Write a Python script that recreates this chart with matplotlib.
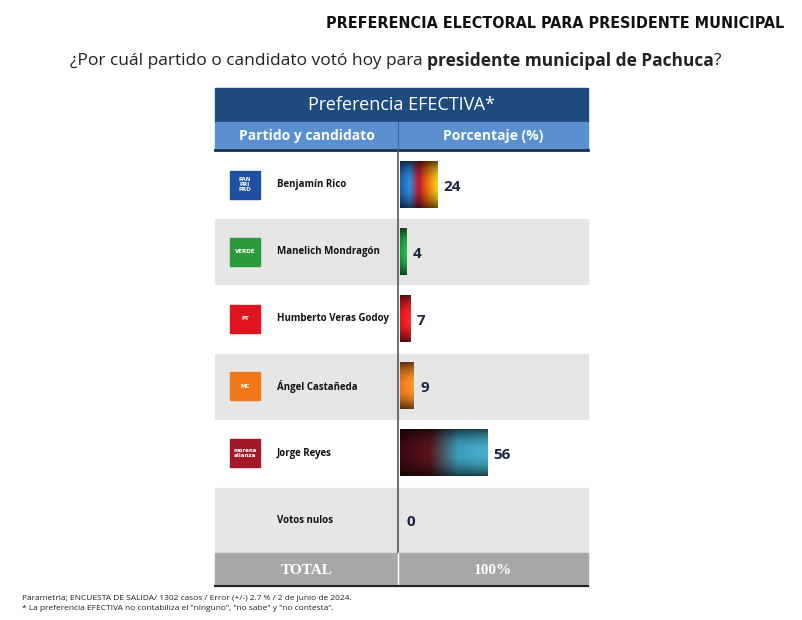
import matplotlib.pyplot as plt
import numpy as np
from matplotlib.patches import Rectangle
from matplotlib.colors import LinearSegmentedColormap

candidates = ["Benjamín Rico", "Manelich Mondragón", "Humberto Veras Godoy",
              "Ángel Castañeda", "Jorge Reyes", "Votos nulos"]
values = [24, 4, 7, 9, 56, 0]
bar_colors = [["#1f5fb0", "#2f8fe0", "#c0182a", "#f07a10", "#ffd21a"],
              ["#1a9a3a", "#2dc050"],
              ["#e0141e", "#ff2b2b"],
              ["#f07818", "#ff9a30"],
              ["#3a0a10", "#5a1418", "#3aa0c0", "#4ab0cc"],
              ["#ffffff", "#ffffff"]]
logos = [("PAN PRI PRD", "#1f4fa0"), ("VERDE", "#2a9a3a"), ("PT", "#e0141e"),
         ("MC", "#f07818"), ("morena alianza", "#a01828"), (None, None)]

W, H = 802, 620
fig = plt.figure(figsize=(W / 100, H / 100), dpi=100)
ax = fig.add_axes([0, 0, 1, 1])
ax.set_xlim(0, W)
ax.set_ylim(H, 0)
ax.axis("off")

font = "Open Sans"
ax.text(784, 24, "PREFERENCIA ELECTORAL PARA PRESIDENTE MUNICIPAL", ha="right",
        va="center", fontsize=11.5, fontweight="bold", family="DejaVu Sans",
        fontstretch="condensed", color="#111111")

# subtitle in three pieces, placed one after another
renderer = fig.canvas.get_renderer()
x = 70
for txt, wt in [("¿Por cuál partido o candidato votó hoy para ", "normal"),
                ("presidente municipal de Pachuca", "bold"), ("?", "normal")]:
    t = ax.text(x, 61, txt, ha="left", va="center", fontsize=12.5, family=font,
                fontweight=wt, color="#222222")
    bb = t.get_window_extent(renderer)
    x += bb.width

L, R, MID = 215, 588, 398
ax.add_patch(Rectangle((L, 88), R - L, 34, color="#1f4a7e"))
ax.text((L + R) / 2, 105, "Preferencia EFECTIVA*", ha="center", va="center",
        fontsize=13, color="white", family=font)
ax.add_patch(Rectangle((L, 122), R - L, 28, color="#5a8fd0"))
ax.plot([MID, MID], [122, 150], color="#3a6aa8", lw=0.8)
ax.text((L + MID) / 2, 136, "Partido y candidato", ha="center", va="center",
        fontsize=10, color="white", family=font, fontweight="bold")
ax.text((MID + R) / 2, 136, "Porcentaje (%)", ha="center", va="center",
        fontsize=10, color="white", family=font, fontweight="bold")
ax.plot([L, R], [150, 150], color="#1f3050", lw=2)

top, rh = 151, 67.2
for i, name in enumerate(candidates):
    y0 = top + i * rh
    if i % 2 == 1:
        ax.add_patch(Rectangle((L, y0 + 1), R - L, rh - 2, color="#e6e6e6"))
    ax.text(277, y0 + rh / 2, name, ha="left", va="center", fontsize=7,
            fontweight="bold", family=font, color="#111111")
    lab, col = logos[i]
    if lab:
        ax.add_patch(Rectangle((230, y0 + rh / 2 - 14), 30, 28, color=col))
        ax.text(245, y0 + rh / 2, lab.replace(" ", "\n"), ha="center", va="center",
                fontsize=4, color="white", fontweight="bold", linespacing=1.0)
ax.plot([MID, MID], [150, 553], color="#555555", lw=1.2)

ax.add_patch(Rectangle((L, 553), R - L, 33, color="#a8a8a8"))
ax.plot([MID, MID], [553, 586], color="white", lw=1)
ax.plot([L, R], [586, 586], color="#222222", lw=1.5)
ax.text((L + MID) / 2, 570, "TOTAL", ha="center", va="center", fontsize=11,
        color="white", family="Liberation Serif", fontweight="bold")
ax.text((MID + R) / 2, 570, "100%", ha="center", va="center", fontsize=11,
        color="white", family="Liberation Serif", fontweight="bold")

ax.text(22, 599, "Parametria; ENCUESTA DE SALIDA/ 1302 casos / Error (+/-) 2.7 % / 2 de junio de 2024.",
        fontsize=6, va="center", family=font, color="#222222")
ax.text(22, 609, "* La preferencia EFECTIVA no contabiliza el \"ninguno\", \"no sabe\" y \"no contesta\".",
        fontsize=6, va="center", family=font, color="#222222")

# bar axes
bx = fig.add_axes([400 / W, 1 - 553 / H, (R - 400) / W, (553 - top) / H])
bx.axis("off")
bx.patch.set_alpha(0)
bh = 0.69
for i, v in enumerate(values):
    if v > 0:
        cmap = LinearSegmentedColormap.from_list("c%d" % i, bar_colors[i])
        horiz = np.linspace(0, 1, 64)
        vert = 1 - 0.6 * np.abs(np.linspace(-1, 1, 32)) ** 2
        img = cmap(horiz)[None, :, :3] * vert[:, None, None]
        bx.imshow(img, extent=[0, v, i + bh / 2, i - bh / 2], aspect="auto",
                  interpolation="bilinear")
    bx.text(v + 4, i + 0.03, str(v), ha="left", va="center", fontsize=11,
            fontweight="bold", color="#1c2540", family=font)
bx.set_xlim(0, 121)
bx.set_ylim(len(values) - 0.5, -0.5)

fig.savefig("out.png", dpi=100)
